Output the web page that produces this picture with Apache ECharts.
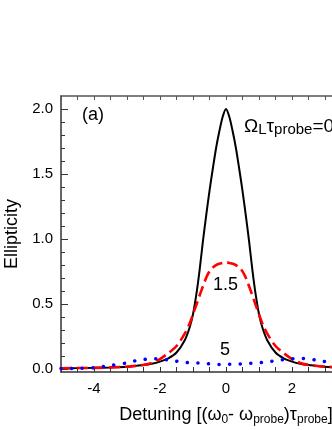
<!DOCTYPE html>
<html>
<head>
<meta charset="utf-8">
<script src="https://cdn.jsdelivr.net/npm/echarts@6/dist/echarts.min.js"></script>
<style>
  html, body { margin: 0; padding: 0; background: #fff; }
  #chart { width: 332px; height: 430px; }
</style>
</head>
<body>
<div id="chart"></div>
<script>
// detuning values (x)
const xBlack = [-5, -4.5, -4, -3.5, -3, -2.5, -2.25, -2, -1.75, -1.5, -1.25, -1.1, -1, -0.9, -0.8, -0.7, -0.6, -0.5, -0.4, -0.3, -0.2, -0.1, 0,
  0.1, 0.2, 0.3, 0.4, 0.5, 0.6, 0.7, 0.8, 0.9, 1, 1.1, 1.25, 1.5, 1.75, 2, 2.25, 2.5, 3, 3.5, 4, 4.5, 5];
const yBlack = [0.004, 0.005, 0.007, 0.01, 0.015, 0.028, 0.038, 0.055, 0.08, 0.125, 0.22, 0.32, 0.42, 0.57, 0.76, 0.98, 1.18, 1.37, 1.54, 1.7, 1.83, 1.94, 2.0,
  1.94, 1.83, 1.7, 1.54, 1.37, 1.18, 0.98, 0.76, 0.57, 0.42, 0.32, 0.22, 0.125, 0.08, 0.055, 0.038, 0.028, 0.015, 0.01, 0.007, 0.005, 0.004];

const xRed = [-5, -4, -3, -2.5, -2.25, -2, -1.75, -1.5, -1.25, -1.1, -1, -0.9, -0.75, -0.6, -0.5, -0.4, -0.25, -0.1, 0,
  0.1, 0.25, 0.4, 0.5, 0.6, 0.75, 0.9, 1, 1.1, 1.25, 1.5, 1.75, 2, 2.25, 2.5, 3, 4, 5];
const yRed = [0.004, 0.007, 0.016, 0.03, 0.045, 0.075, 0.12, 0.175, 0.27, 0.35, 0.42, 0.49, 0.6, 0.7, 0.75, 0.78, 0.805, 0.815, 0.82,
  0.815, 0.805, 0.78, 0.75, 0.7, 0.6, 0.49, 0.42, 0.35, 0.27, 0.175, 0.12, 0.075, 0.045, 0.03, 0.016, 0.007, 0.004];

const xBlue = [-5, -4.5, -4, -3.5, -3, -2.7, -2.4, -2.1, -1.75, -1.4, -1.1, -0.75, -0.45, -0.15, 0.2, 0.5, 0.85, 1.15, 1.45, 1.72, 2.02, 2.32, 2.68, 2.98, 3.5, 4, 4.5, 5];
const yBlue = [0.002, 0.003, 0.008, 0.025, 0.045, 0.064, 0.074, 0.077, 0.068, 0.054, 0.046, 0.044, 0.036, 0.033, 0.036, 0.038, 0.044, 0.05, 0.06, 0.069, 0.077, 0.08, 0.069, 0.056, 0.035, 0.02, 0.01, 0.005];

// axis ticks
const yLabels = [0, 0.5, 1.0, 1.5, 2.0];
const yMinorTicks = [0, 0.1, 0.2, 0.3, 0.4, 0.5, 0.6, 0.7, 0.8, 0.9, 1.0, 1.1, 1.2, 1.3, 1.4, 1.5, 1.6, 1.7, 1.8, 1.9, 2.0];
const xLabels = [-4, -2, 0, 2, 4];

const pairs = (xs, ys) => xs.map((x, i) => [x, ys[i]]);

const chart = echarts.init(document.getElementById('chart'), null, { renderer: 'canvas' });
const font = '"Liberation Sans", Arial, sans-serif';
const axisColor = '#333';

const option = {
  backgroundColor: '#fff',
  animation: false,
  textStyle: { fontFamily: font },
  // the plot runs past the right edge of the picture (x up to 5)
  grid: { left: 61, top: 96, width: 330, height: 276, containLabel: false, outerBoundsMode: 'none' },
  xAxis: [
    {
      type: 'value', min: -5, max: 5, interval: 0.5, position: 'bottom',
      axisLine: { onZero: false, lineStyle: { color: axisColor, width: 1.5 } },
      axisTick: { inside: true, length: 5, lineStyle: { color: axisColor } },
      axisLabel: {
        color: '#000', fontSize: 15, margin: 9, fontFamily: font,
        formatter: v => (xLabels.indexOf(v) >= 0 ? String(v) : '')
      },
      splitLine: { show: false },
      name: '{n|Detuning [(ω}{s|0}{n|- ω}{s|probe}{n|)τ}{s|probe}{n|]}',
      nameLocation: 'middle',
      nameGap: 32,
      nameTextStyle: {
        rich: {
          n: { fontSize: 18, color: '#000', fontFamily: font, lineHeight: 22 },
          s: { fontSize: 12, color: '#000', fontFamily: font, lineHeight: 12, padding: [10, 0, 0, 0], verticalAlign: 'bottom' }
        }
      }
    },
    {
      type: 'value', min: -5, max: 5, interval: 0.5, position: 'top',
      axisLine: { onZero: false, lineStyle: { color: '#555', width: 1.5 } },
      axisTick: { inside: true, length: 4, lineStyle: { color: '#555' } },
      axisLabel: { show: false },
      splitLine: { show: false }
    }
  ],
  yAxis: [
    {
      type: 'value', min: -0.025, max: 2.1, position: 'left',
      axisLine: { show: true, onZero: false, lineStyle: { color: axisColor, width: 1.5 } },
      axisTick: { show: true, inside: true, length: 4, customValues: yMinorTicks, lineStyle: { color: axisColor } },
      axisLabel: {
        color: '#000', fontSize: 15, margin: 8, fontFamily: font,
        customValues: yLabels, formatter: v => v.toFixed(1)
      },
      splitLine: { show: false },
      name: 'Ellipticity',
      nameLocation: 'middle',
      nameRotate: 90,
      nameGap: 39,
      nameTextStyle: { fontSize: 18, color: '#000', fontFamily: font }
    },
    {
      type: 'value', min: -0.025, max: 2.1, position: 'left',
      axisLine: { show: false, onZero: false },
      axisTick: { show: true, inside: true, length: 7, customValues: yLabels, lineStyle: { color: axisColor } },
      axisLabel: { show: false },
      splitLine: { show: false }
    }
  ],
  series: [
    {
      name: '0', type: 'line', data: pairs(xBlack, yBlack),
      showSymbol: false, smooth: 0.3,
      lineStyle: { color: '#000', width: 2 }, z: 2
    },
    {
      name: '1.5', type: 'line', data: pairs(xRed, yRed),
      showSymbol: false, smooth: 0.3,
      lineStyle: { color: '#ff0000', width: 2.6, type: [11, 5] }, z: 3
    },
    {
      name: '5', type: 'line', data: pairs(xBlue, yBlue),
      showSymbol: false, smooth: 0.3,
      lineStyle: { color: '#0000ff', width: 3.5, type: [0.1, 10.5], cap: 'round' }, z: 4
    }
  ],
  graphic: [
    {
      type: 'text', left: 82, top: 106,
      style: { text: '(a)', font: '18px ' + font, fill: '#000' }
    },
    {
      type: 'text', left: 244, top: 112,
      style: {
        text: '{n|Ω}{s|L}{n|τ}{s|probe}{n|=0}',
        fill: '#000',
        rich: {
          n: { fontSize: 19, fontFamily: font, lineHeight: 21 },
          s: { fontSize: 15, fontFamily: font, lineHeight: 15, padding: [10, 0, 0, 0], verticalAlign: 'bottom' }
        }
      }
    },
    {
      type: 'text', left: 213, top: 276,
      style: { text: '1.5', font: '18px ' + font, fill: '#000' }
    },
    {
      type: 'text', left: 220, top: 341,
      style: { text: '5', font: '18px ' + font, fill: '#000' }
    }
  ]
};

chart.setOption(option);
</script>
</body>
</html>
